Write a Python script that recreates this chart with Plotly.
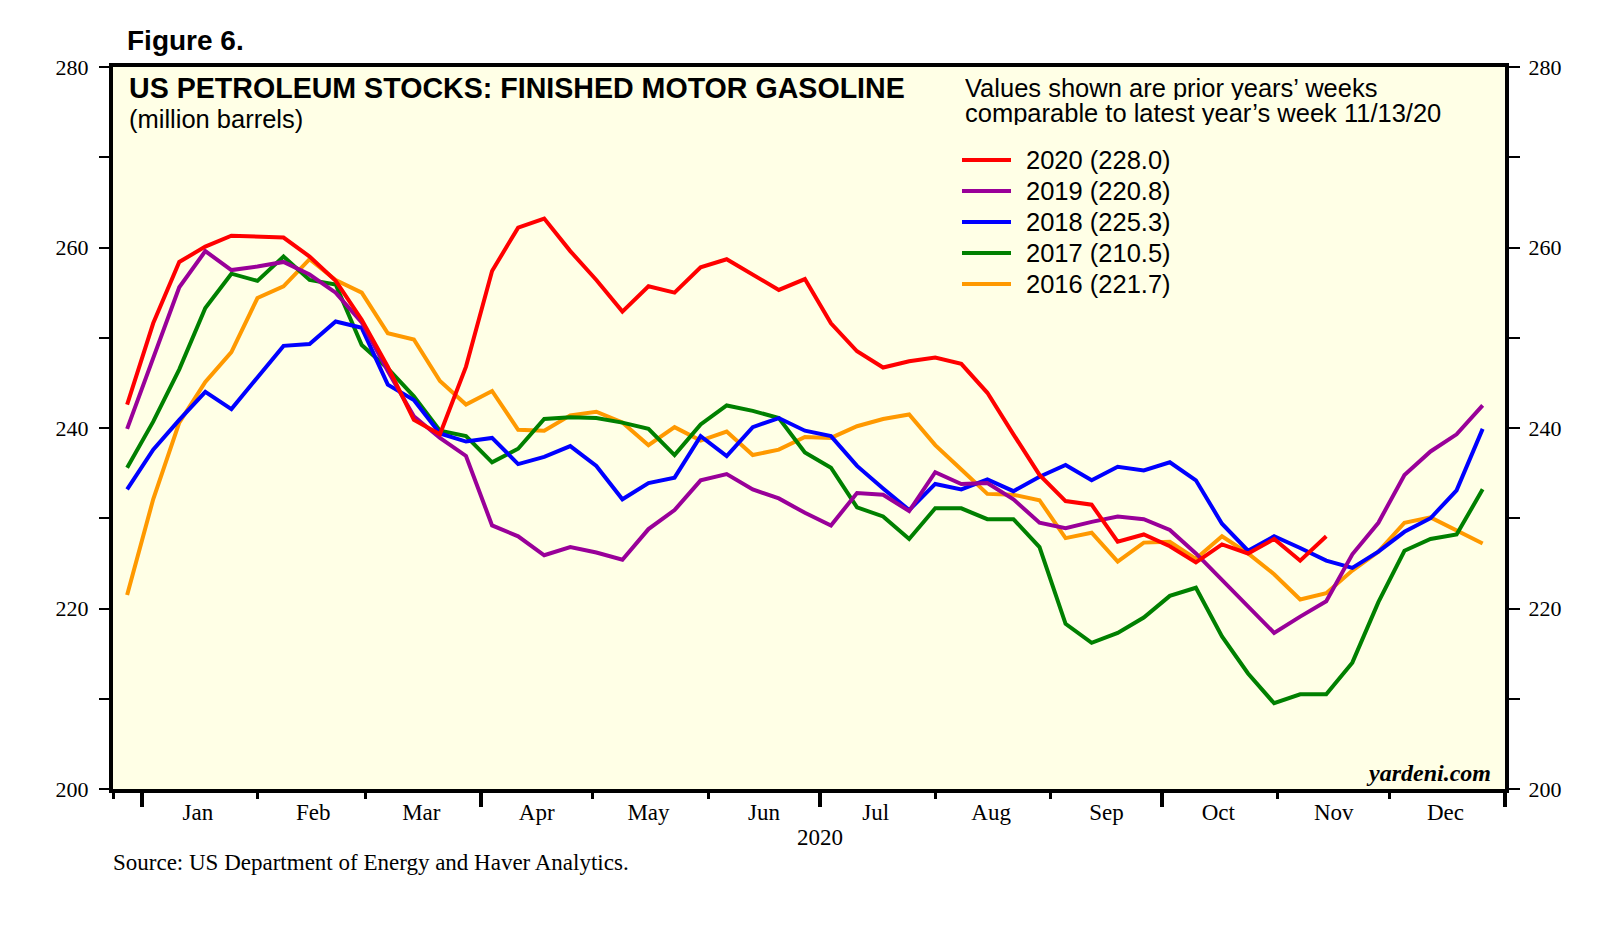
import pandas as pd
import plotly.graph_objects as go

# ---------------- data ----------------
first_week = "2019-12-27"          # first weekly observation shown (week ending Friday)
latest_idx = 46                    # week of 11/13/20
month_labels = ["Jan", "Feb", "Mar", "Apr", "May", "Jun",
                "Jul", "Aug", "Sep", "Oct", "Nov", "Dec"]
y_ticks = [200, 210, 220, 230, 240, 250, 260, 270, 280]
y_ticktext = ["200", "", "220", "", "240", "", "260", "", "280"]

s2020 = [242.6, 251.6, 258.4, 260.1, 261.3, 261.2, 261.1, 259.0, 256.3, 252.0,
         246.8, 240.9, 239.3, 246.8, 257.4, 262.2, 263.2, 259.6, 256.4, 252.9,
         255.7, 255.0, 257.8, 258.7, 257.0, 255.3, 256.5, 251.6, 248.5, 246.7,
         247.4, 247.8, 247.1, 243.9, 239.3, 234.8, 231.9, 231.5, 227.4, 228.2,
         226.9, 225.1, 227.1, 226.1, 227.7, 225.3, 228.0]
s2019 = [239.9, 247.8, 255.6, 259.6, 257.5, 257.9, 258.4, 257.0, 255.0, 251.7,
         246.3, 241.3, 238.9, 236.9, 229.2, 228.0, 225.9, 226.8, 226.2, 225.4,
         228.8, 230.9, 234.2, 234.9, 233.2, 232.2, 230.6, 229.2, 232.8, 232.6,
         230.8, 235.1, 233.8, 233.9, 232.1, 229.5, 228.9, 229.6, 230.2, 229.9,
         228.7, 226.1, 223.2, 220.3, 217.3, 219.1, 220.8, 226.0, 229.5, 234.8,
         237.4, 239.3, 242.5]
s2018 = [233.2, 237.6, 240.9, 244.0, 242.1, 245.6, 249.1, 249.3, 251.8, 251.1,
         244.8, 243.1, 239.4, 238.5, 238.9, 236.0, 236.8, 238.0, 235.8, 232.1,
         233.9, 234.5, 239.1, 236.9, 240.1, 241.1, 239.7, 239.1, 235.8, 233.3,
         230.9, 233.8, 233.2, 234.3, 233.0, 234.6, 235.9, 234.2, 235.7, 235.3,
         236.2, 234.2, 229.4, 226.4, 228.0, 226.7, 225.3, 224.5, 226.3, 228.5,
         230.0, 233.1, 239.9]
s2017 = [235.6, 240.7, 246.5, 253.3, 257.1, 256.3, 259.0, 256.4, 255.9, 249.2,
         246.6, 243.5, 239.7, 239.1, 236.2, 237.7, 241.0, 241.2, 241.1, 240.6,
         239.9, 237.0, 240.4, 242.5, 241.9, 241.1, 237.3, 235.6, 231.2, 230.2,
         227.7, 231.1, 231.1, 229.9, 229.9, 226.8, 218.3, 216.2, 217.3, 219.0,
         221.4, 222.3, 216.9, 212.8, 209.5, 210.5, 210.5, 214.0, 220.7, 226.4,
         227.7, 228.2, 233.2]
s2016 = [221.5, 232.1, 240.6, 245.1, 248.4, 254.4, 255.7, 258.7, 256.4, 255.0,
         250.5, 249.8, 245.2, 242.6, 244.1, 239.8, 239.7, 241.4, 241.8, 240.6,
         238.1, 240.1, 238.6, 239.6, 237.0, 237.6, 239.0, 238.9, 240.2, 241.0,
         241.5, 238.1, 235.4, 232.7, 232.6, 232.0, 227.8, 228.4, 225.2, 227.3,
         227.4, 225.5, 228.0, 226.1, 223.8, 221.0, 221.7, 224.2, 226.3, 229.5,
         230.1, 228.7, 227.2]

series = [  # drawn bottom to top
    ("2016", s2016, "#FF9900"),
    ("2017", s2017, "#008000"),
    ("2018", s2018, "#0000FF"),
    ("2019", s2019, "#990099"),
    ("2020", s2020, "#FF0000"),
]
legend_order = ["2020", "2019", "2018", "2017", "2016"]

# ---------------- figure ----------------
weeks = pd.date_range(first_week, periods=53, freq="7D") + pd.Timedelta(days=1)
month_starts = pd.date_range("2020-01-01", "2021-01-01", freq="MS")
quarter_starts = pd.date_range("2020-01-01", "2021-01-01", freq="QS")
mid_months = month_starts[:-1] + pd.Timedelta(days=15)
x_range = ["2019-12-24 05:00", "2021-01-01"]

SERIF = "Liberation Serif, Times New Roman, serif"
SANS = "Liberation Sans, Arial, sans-serif"

fig = go.Figure()
for name, vals, col in series:
    fig.add_trace(go.Scatter(x=weeks[:len(vals)], y=vals, mode="lines", name=name,
                             line=dict(color=col, width=4), showlegend=False))
# carrier for secondary axes (right scale, quarter ticks)
fig.add_trace(go.Scatter(x=[weeks[0]], y=[None], xaxis="x2", yaxis="y2",
                         showlegend=False, hoverinfo="skip", mode="lines"))

W, H = 1621, 951
L, R, T, B = 113, 116, 67, 162
pw, ph = W - L - R, H - T - B

def px(xpix):
    return (xpix - L) / pw

def py(ypix):
    return (H - B - ypix) / ph

fig.update_layout(
    width=W, height=H,
    margin=dict(l=L, r=R, t=T, b=B, pad=0),
    paper_bgcolor="white", plot_bgcolor="#FFFFE6",
    showlegend=False,
    xaxis=dict(type="date", range=x_range, tickmode="array",
               tickvals=list(mid_months), ticktext=month_labels,
               ticks="", ticklabelstandoff=-1,
               tickfont=dict(family=SERIF, size=23, color="black"),
               showgrid=False, zeroline=False,
               showline=True, linewidth=4, linecolor="black", mirror=True,
               minor=dict(tickmode="array",
                          tickvals=[x_range[0]] + list(month_starts),
                          ticks="outside", ticklen=6, tickwidth=3,
                          tickcolor="black", showgrid=False)),
    xaxis2=dict(type="date", range=x_range, overlaying="x", anchor="y",
                side="bottom", tickmode="array", tickvals=list(quarter_starts),
                ticks="outside", ticklen=17, tickwidth=4, tickcolor="black",
                showticklabels=False, showgrid=False, zeroline=False,
                showline=False),
    yaxis=dict(range=[200, 280], tickmode="array", tickvals=y_ticks,
               ticktext=y_ticktext, ticks="outside", ticklen=10, tickwidth=1.5,
               tickcolor="black", ticklabelstandoff=6,
               tickfont=dict(family=SERIF, size=22, color="black"),
               showgrid=False, zeroline=False,
               showline=True, linewidth=4, linecolor="black", mirror=True),
    yaxis2=dict(range=[200, 280], overlaying="y", side="right", anchor="x2",
                tickmode="array", tickvals=y_ticks, ticktext=y_ticktext,
                ticks="outside", ticklen=14, tickwidth=1.5, tickcolor="black",
                ticklabelstandoff=4,
                tickfont=dict(family=SERIF, size=22, color="black"),
                showgrid=False, zeroline=False, showline=False),
)

ann = []
ann.append(dict(text="Figure 6.", x=px(125), y=py(40), xref="paper", yref="paper",
                xanchor="left", yanchor="middle", showarrow=False,
                font=dict(family=SANS, size=28, color="black", weight="bold")))
ann.append(dict(text="US PETROLEUM STOCKS: FINISHED MOTOR GASOLINE", x=px(127), y=py(88),
                xref="paper", yref="paper", xanchor="left", yanchor="middle",
                showarrow=False,
                font=dict(family=SANS, size=28.6, color="black", weight="bold")))
ann.append(dict(text="(million barrels)", x=px(127), y=py(119), xref="paper", yref="paper",
                xanchor="left", yanchor="middle", showarrow=False,
                font=dict(family=SANS, size=25.5, color="black")))
ann.append(dict(text="Values shown are prior years\u2019 weeks", x=px(963), y=py(88),
                xref="paper", yref="paper", xanchor="left", yanchor="middle",
                height=24, showarrow=False,
                font=dict(family=SANS, size=25.5, color="black")))
ann.append(dict(text="comparable to latest year\u2019s week 11/13/20", x=px(963), y=py(113),
                xref="paper", yref="paper", xanchor="left", yanchor="middle",
                height=24, showarrow=False,
                font=dict(family=SANS, size=25.5, color="black")))

lookup = {n: (v, c) for n, v, c in series}
shapes = []
for k, name in enumerate(legend_order):
    vals, col = lookup[name]
    ry = py(160 + 31 * k)
    shapes.append(dict(type="line", xref="paper", yref="paper", x0=px(962), x1=px(1011),
                       y0=ry, y1=ry, line=dict(color=col, width=4)))
    ann.append(dict(text=f"{name} ({vals[latest_idx]:.1f})", x=px(1024), y=ry,
                    xref="paper", yref="paper", xanchor="left", yanchor="middle",
                    showarrow=False, font=dict(family=SANS, size=25.5, color="black")))

ann.append(dict(text="yardeni.com", x=px(1493), y=py(773), xref="paper", yref="paper",
                xanchor="right", yanchor="middle", showarrow=False,
                font=dict(family=SERIF, size=24, color="black", weight="bold",
                          style="italic")))
ann.append(dict(text="2020", x="2020-07-01", y=py(837), xref="x", yref="paper",
                xanchor="center", yanchor="middle", showarrow=False,
                font=dict(family=SERIF, size=23, color="black")))
ann.append(dict(text="Source: US Department of Energy and Haver Analytics.", x=px(111),
                y=py(862), xref="paper", yref="paper", xanchor="left", yanchor="middle",
                showarrow=False, font=dict(family=SERIF, size=23, color="black")))

fig.update_layout(annotations=ann, shapes=shapes)

fig.write_html("out.html", config={"displayModeBar": False},
               post_script="document.body.style.margin='0px';document.body.style.overflow='hidden';")
